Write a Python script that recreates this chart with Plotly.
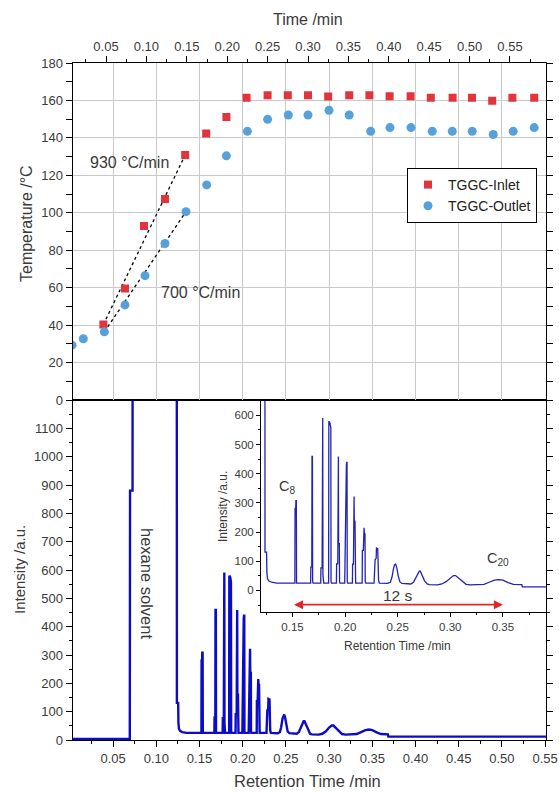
import plotly.graph_objects as go

W, H = 559, 792
FONT = "Liberation Sans, Arial, sans-serif"
TXT = "#3a3a3a"

# ---- Temperature programme (top panel, read on the top "Time /min" axis) ----
inlet_time = [0.0467, 0.0735, 0.0970, 0.1230, 0.1480, 0.1740, 0.1990, 0.2240, 0.2500, 0.2750, 0.3000,
              0.3250, 0.3510, 0.3760, 0.4010, 0.4270, 0.4520, 0.4790, 0.5030, 0.5280, 0.5530, 0.5800]
inlet_temp = [40.3, 59.5, 93.0, 107.3, 130.9, 142.4, 151.1, 161.4, 162.8, 162.8, 162.8,
              162.1, 162.8, 162.8, 162.3, 162.3, 161.4, 161.4, 161.4, 159.8, 161.4, 161.4]

outlet_time = [0.0079, 0.0219, 0.0479, 0.0735, 0.0983, 0.1230, 0.1490, 0.1746, 0.1990, 0.2250, 0.2500, 0.2756,
               0.3000, 0.3260, 0.3510, 0.3776, 0.4015, 0.4275, 0.4538, 0.4786, 0.5033, 0.5293, 0.5540, 0.5800]
outlet_temp = [29.3, 32.7, 36.4, 50.8, 66.4, 83.6, 100.6, 114.9, 130.4, 143.5, 149.9, 152.2,
               152.2, 154.7, 152.2, 143.5, 145.5, 145.5, 143.5, 143.5, 143.5, 141.8, 143.5, 145.5]

# index ranges used for the two heating-rate guide lines
inlet_ramp = (0, 4)    # 930 °C/min
outlet_ramp = (2, 6)   # 700 °C/min

# ---- Chromatogram (retention time in min, intensity in a.u.) ----
rt_min = [
    # baseline, hexane solvent peak
    0.0030, 0.0693, 0.0696, 0.0725, 0.0727, 0.1236, 0.1238, 0.1253, 0.1256, 0.1262, 0.1275, 0.1300, 0.1350,
    # C8
    0.1522, 0.1524, 0.1530, 0.1532, 0.1536, 0.1538,
    # C9
    0.1672, 0.1674, 0.1683, 0.1685, 0.1689, 0.1691, 0.1695,
    # C10
    0.1768, 0.1770, 0.1781, 0.1783, 0.1787, 0.1789, 0.1791, 0.1796,
    # C11
    0.1843, 0.1845, 0.1855, 0.1860, 0.1864, 0.1866, 0.1870,
    # C12
    0.1917, 0.1919, 0.1930, 0.1932, 0.1936, 0.1938, 0.1945, 0.1947, 0.1951,
    # C13
    0.1996, 0.1998, 0.2003, 0.2005, 0.2012, 0.2015, 0.2018, 0.2020, 0.2024,
    # C14
    0.2069, 0.2071, 0.2079, 0.2081, 0.2085, 0.2087, 0.2094, 0.2096, 0.2100,
    # C15
    0.2162, 0.2164, 0.2173, 0.2175, 0.2180, 0.2183, 0.2189, 0.2191, 0.2196,
    # C16
    0.2275, 0.2282, 0.2285, 0.2295, 0.2298, 0.2310, 0.2313, 0.2318, 0.2325,
    # C17
    0.2405, 0.2430, 0.2445, 0.2460, 0.2470, 0.2480, 0.2490, 0.2505, 0.2520, 0.2540,
    # C18
    0.2625, 0.2650, 0.2670, 0.2690, 0.2705, 0.2715, 0.2735, 0.2755, 0.2780, 0.2800,
    # C19
    0.2880, 0.2920, 0.2960, 0.3000, 0.3030, 0.3050, 0.3080, 0.3110, 0.3150, 0.3190,
    # C20 and tail
    0.3280, 0.3320, 0.3370, 0.3420, 0.3460, 0.3500, 0.3550, 0.3600, 0.3680, 0.3685, 0.5510,
]
signal = [
    4, 4, 880, 880, 3000, 3000, 131, 131, 60, 40, 32, 28, 25,
    25, 280, 280, 308, 308, 25,
    25, 80, 80, 459, 459, 30, 25,
    25, 77, 77, 591, 591, 55, 50, 25,
    25, 580, 575, 557, 557, 30, 25,
    25, 91, 91, 459, 459, 160, 160, 30, 25,
    25, 97, 97, 425, 430, 439, 439, 30, 25,
    25, 90, 90, 322, 322, 237, 237, 30, 25,
    25, 137, 137, 215, 215, 194, 194, 30, 25,
    25, 60, 105, 110, 145, 143, 80, 35, 25,
    24, 28, 45, 75, 88, 90, 80, 50, 30, 24,
    22, 28, 42, 58, 66, 66, 52, 33, 22, 20,
    19, 22, 30, 44, 51, 51, 42, 30, 21, 19,
    19, 21, 28, 35, 37, 35, 27, 21, 20, 12, 12,
]

# time window marked in the inset (0.2 min = 12 s)
span_start, span_end = 0.15, 0.35


def px(x):
    return x / W


def py(y):
    return 1 - y / H


X_DOM = [px(72.5), px(546)]
TOP_DOM = [py(400), py(63)]
BOT_DOM = [py(740), py(400)]
INSET_X = [px(261), px(546)]
INSET_Y = [py(612), py(400.5)]

fig = go.Figure()

# empty trace so the retention-time grid axis of the top panel is registered
fig.add_trace(go.Scatter(x=[], y=[], xaxis="x2", yaxis="y2", showlegend=False, hoverinfo="skip"))

# guide lines for heating rates
i0, i1 = inlet_ramp
fig.add_trace(go.Scatter(x=[inlet_time[i0], inlet_time[i1]], y=[inlet_temp[i0], inlet_temp[i1]],
                         mode="lines", line=dict(color="black", width=1.3, dash="dot"),
                         xaxis="x3", yaxis="y2", showlegend=False, hoverinfo="skip"))
o0, o1 = outlet_ramp
fig.add_trace(go.Scatter(x=[outlet_time[o0], outlet_time[o1]], y=[outlet_temp[o0], outlet_temp[o1]],
                         mode="lines", line=dict(color="black", width=1.3, dash="dot"),
                         xaxis="x3", yaxis="y2", showlegend=False, hoverinfo="skip"))

fig.add_trace(go.Scatter(x=inlet_time, y=inlet_temp, mode="markers", name="TGGC-Inlet",
                         marker=dict(symbol="square", size=8, color="#e2343c"),
                         xaxis="x3", yaxis="y2"))
fig.add_trace(go.Scatter(x=outlet_time, y=outlet_temp, mode="markers", name="TGGC-Outlet",
                         marker=dict(symbol="circle", size=9, color="#57a0da"),
                         xaxis="x3", yaxis="y2"))

# chromatogram, full view
fig.add_trace(go.Scatter(x=rt_min, y=signal, mode="lines", line=dict(color="#0c0cc8", width=2.4),
                         xaxis="x", yaxis="y", showlegend=False))
# chromatogram, inset view
fig.add_trace(go.Scatter(x=rt_min, y=signal, mode="lines", line=dict(color="#2222b4", width=1.3),
                         xaxis="x4", yaxis="y4", showlegend=False))

tickfont = dict(family=FONT, size=13, color=TXT)
axis_common = dict(showline=True, linecolor="black", linewidth=1, ticks="outside", ticklen=6,
                   tickcolor="black", zeroline=False, automargin=False, tickfont=tickfont)

fig.update_layout(
    width=W, height=H, autosize=False,
    margin=dict(l=0, r=0, t=0, b=0),
    paper_bgcolor="white", plot_bgcolor="white",
    font=dict(family=FONT, color=TXT),
    # bottom panel
    xaxis=dict(axis_common, domain=X_DOM, anchor="y", range=[0.003, 0.551],
               tickmode="linear", tick0=0, dtick=0.05, tickformat=".2f", mirror=True, showgrid=False,
               minor=dict(ticks="outside", ticklen=3, tickcolor="black", tick0=0, dtick=0.025)),
    yaxis=dict(axis_common, domain=BOT_DOM, anchor="x", range=[0, 1200],
               tickmode="array", tickvals=list(range(0, 1200, 100)), mirror="allticks", showgrid=False,
               minor=dict(ticks="outside", ticklen=3, tickcolor="black", tickmode="linear", tick0=0, dtick=50)),
    # top panel: vertical grid follows the retention-time scale
    xaxis2=dict(domain=X_DOM, anchor="y2", range=[0.003, 0.551], showticklabels=False, ticks="",
                showline=True, linecolor="black", mirror=False, zeroline=False, automargin=False,
                tickmode="linear", tick0=0, dtick=0.05, showgrid=True, gridcolor="#c9c9c9", gridwidth=1),
    yaxis2=dict(axis_common, domain=TOP_DOM, anchor="x2", range=[0, 180],
                tickmode="linear", tick0=0, dtick=20, mirror="allticks",
                showgrid=True, gridcolor="#c9c9c9", gridwidth=1,
                minor=dict(ticks="outside", ticklen=3, tickcolor="black", tick0=0, dtick=10)),
    xaxis3=dict(axis_common, domain=X_DOM, overlaying="x2", anchor="y2", side="top", range=[0.0085, 0.5946],
                tickmode="linear", tick0=0, dtick=0.05, tickformat=".2f", showgrid=False,
                minor=dict(ticks="outside", ticklen=3, tickcolor="black", tick0=0, dtick=0.025)),
    # inset
    xaxis4=dict(axis_common, domain=INSET_X, anchor="y4", range=[0.12, 0.391], ticklen=4,
                tickmode="linear", tick0=0, dtick=0.05, tickformat=".2f", mirror=True, showgrid=False,
                tickfont=dict(family=FONT, size=11.5, color=TXT),
                minor=dict(ticks="outside", ticklen=2, tickcolor="black", tick0=0, dtick=0.025)),
    yaxis4=dict(axis_common, domain=INSET_Y, anchor="x4", range=[-74, 651], ticklen=4,
                tickmode="linear", tick0=0, dtick=100, mirror=True, showgrid=False,
                tickfont=dict(family=FONT, size=11.5, color=TXT),
                minor=dict(ticks="outside", ticklen=2, tickcolor="black", tick0=0, dtick=50)),
    legend=dict(x=px(407), y=py(168), xanchor="left", yanchor="top",
                bordercolor="black", borderwidth=1, bgcolor="white",
                font=dict(family=FONT, size=14, color="#222222"), itemwidth=30, tracegroupgap=0),
)

ann = []


def label(text, x, y, size, angle=0, color=TXT):
    ann.append(dict(text=text, x=px(x), y=py(y), xref="paper", yref="paper", showarrow=False,
                    xanchor="center", yanchor="middle", textangle=angle,
                    font=dict(family=FONT, size=size, color=color)))


label("Time /min", 308, 19, 16)
label("Temperature /°C", 26, 224, 16, -90)
label("930 °C/min", 129, 162, 16)
label("700 °C/min", 200, 292, 16)
label("hexane solvent", 147, 583, 16.5, 90)
label("Intensity /a.u.", 19, 570, 15, -90)
label("Retention Time /min", 308, 781, 16.5)
label("Intensity /a.u.", 223, 507, 12, -90)
label("Retention Time /min", 397, 646, 12)
label("C<sub>8</sub>", 287, 487, 14.5)
label("C<sub>20</sub>", 498, 559, 14.5)
label("12 s", 398, 595, 15.5)

# 12 s window arrow inside the inset
ann.append(dict(x=span_end, y=-49, ax=span_start, ay=-49, xref="x4", yref="y4", axref="x4", ayref="y4",
                text="", showarrow=True, arrowhead=2, arrowside="end+start", arrowsize=1,
                arrowwidth=1.8, arrowcolor="#e0262a"))

fig.update_layout(annotations=ann)

fig.write_html("out.html")
